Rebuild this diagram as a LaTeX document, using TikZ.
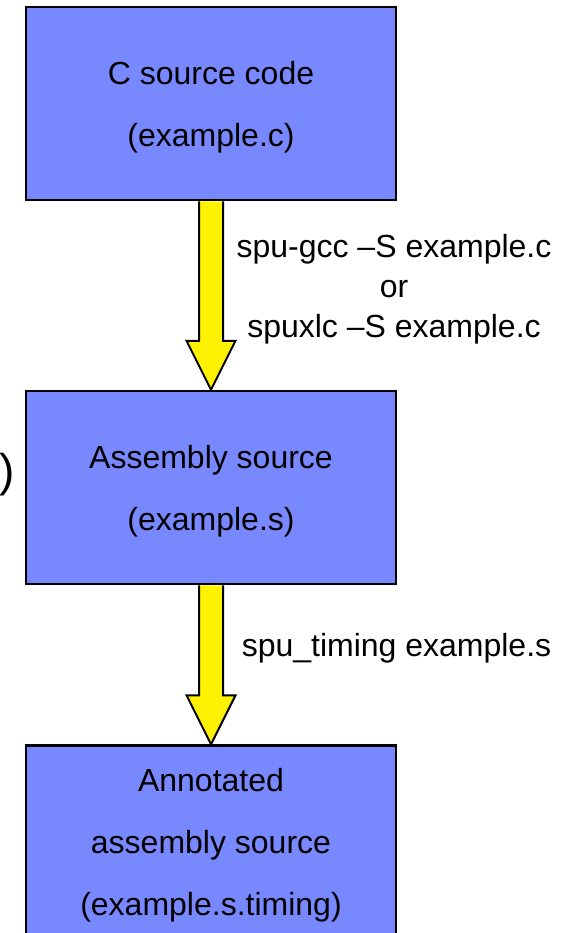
\documentclass[tikz,border=0pt]{standalone}
\usepackage{fontspec}
\setmainfont{Liberation Sans}
\usepackage{xcolor}
\usetikzlibrary{calc, positioning}

\definecolor{boxblue}{RGB}{120,136,255}

% taller first line, so the text sits a bit lower in its node
\newcommand{\toprow}{\rule{0pt}{15.2pt}}

% fat yellow arrow from the bottom of one box to the top of the next
\newcommand{\flowarrow}[2]{%
  \draw[fatarrow] ($(#1.south)+(-12,0)$) -- ($(#2.north)+(-12,-49)$)
    -- ($(#2.north)+(-24.5,-49)$) -- (#2.north) -- ($(#2.north)+(24.5,-49)$)
    -- ($(#2.north)+(12,-49)$) -- ($(#1.south)+(12,0)$);}

\begin{document}
\begin{tikzpicture}[x=0.5pt, y=-0.5pt,
  stage/.style={draw, line width=1.25pt, fill=boxblue, minimum width=185pt,
    minimum height=96.5pt, inner sep=0pt, align=center,
    font=\fontsize{16}{31}\selectfont},
  cmd/.style={inner sep=0pt, align=center, font=\fontsize{16}{20}\selectfont},
  fatarrow/.style={draw, line width=1pt, fill=yellow, line join=miter}]
\useasboundingbox (0,0) rectangle (565,933);
\clip (0,0) rectangle (565,933);

% Three stages
\node[stage] (csrc) at (211,103.5) {\toprow C source code\\(example.c)};
\node[stage] (asm) at (211,487.5) {\toprow Assembly source\\(example.s)};
\node[stage] (timed) at (211,842) {\toprow Annotated\\assembly source\\(example.s.timing)};

\flowarrow{csrc}{asm}
\flowarrow{asm}{timed}

% Commands beside the arrows
\node[cmd] (gcccmd) at (394,286) {\toprow spu-gcc –S example.c\\or\\spuxlc –S example.c};
\node[cmd] (timingcmd) at (396.5,645) {\toprow spu\_timing example.s};

\node[inner sep=0pt, anchor=east, font=\fontsize{23}{23}\selectfont] (paren) at (15,475) {)};
\end{tikzpicture}
\end{document}
